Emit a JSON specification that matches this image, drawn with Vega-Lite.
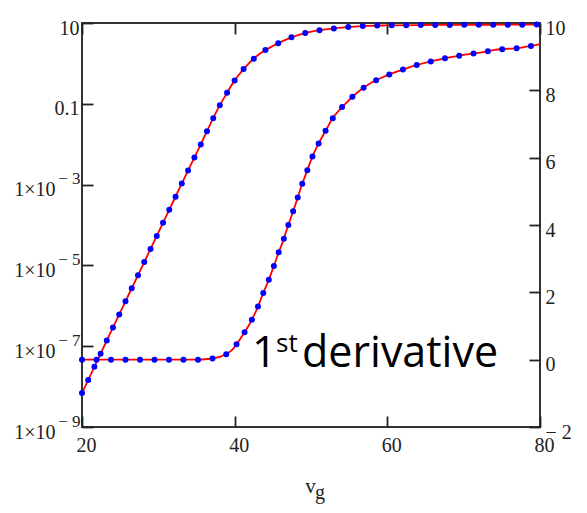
{
  "$schema": "https://vega.github.io/schema/vega-lite/v6.json",
  "width": 458,
  "height": 404,
  "autosize": {"type": "none"},
  "padding": {"left": 82, "top": 23, "right": 47, "bottom": 86},
  "background": "white",
  "config": {
    "view": {"stroke": "#333333", "strokeWidth": 2},
    "axis": {
      "labelFont": "Liberation Serif",
      "labelFontSize": 20,
      "labelColor": "#222222",
      "labelFlush": false,
      "domain": false,
      "offset": -11,
      "ticks": true,
      "tickColor": "#222222",
      "tickWidth": 1.8,
      "tickSize": 11,
      "grid": false,
      "titleFont": "Liberation Serif",
      "titleFontWeight": "normal",
      "titleColor": "#222222"
    }
  },
  "layer": [
    {
      "data": {
        "values": [
          {"vg": 20, "current": 6.918e-9},
          {"vg": 22, "current": 4.365e-8},
          {"vg": 24, "current": 2.754e-7},
          {"vg": 26, "current": 1.698e-6},
          {"vg": 28, "current": 1.047e-5},
          {"vg": 30, "current": 6.457e-5},
          {"vg": 32, "current": 3.981e-4},
          {"vg": 34, "current": 2.455e-3},
          {"vg": 35.5, "current": 9.333e-3},
          {"vg": 36.1, "current": 0.01622},
          {"vg": 37.0, "current": 0.03715},
          {"vg": 37.9, "current": 0.08128},
          {"vg": 38.9, "current": 0.1738},
          {"vg": 40.0, "current": 0.3802},
          {"vg": 41.4, "current": 0.8128},
          {"vg": 43.2, "current": 1.679},
          {"vg": 45.0, "current": 2.692},
          {"vg": 46.8, "current": 3.945},
          {"vg": 48.6, "current": 5.248},
          {"vg": 50.4, "current": 6.31},
          {"vg": 52.2, "current": 7.079},
          {"vg": 54.0, "current": 7.674},
          {"vg": 55.7, "current": 8.128},
          {"vg": 57.5, "current": 8.511},
          {"vg": 60, "current": 8.71},
          {"vg": 65, "current": 8.913},
          {"vg": 70, "current": 9.016},
          {"vg": 75, "current": 9.078},
          {"vg": 80, "current": 9.12}
        ]
      },
      "encoding": {
        "x": {
          "field": "vg",
          "type": "quantitative",
          "scale": {"domain": [20, 80], "nice": false},
          "axis": {
            "orient": "bottom",
            "values": [20, 40, 60, 80],
            "labelPadding": 8,
            "labelOffset": 4,
            "title": "v",
            "titleFontSize": 21,
            "titleBaseline": "alphabetic",
            "titleAlign": "center",
            "titleX": 228,
            "titleY": 76
          }
        }
      },
      "layer": [
        {
          "mark": {"type": "line", "color": "#ff0000", "strokeWidth": 1.8, "interpolate": "monotone"},
          "encoding": {
            "y": {
              "field": "current",
              "type": "quantitative",
              "scale": {"type": "log", "domain": [1e-9, 10], "nice": false},
              "axis": {
                "orient": "left",
                "values": [1e-9, 1e-7, 1e-5, 0.001, 0.1, 10],
                "labelExpr": "datum.value >= 1 ? '10' : datum.value >= 0.09 ? '0.1' : '1×10'",
                "labelPadding": {"condition": {"test": "datum.value >= 0.09", "value": 3}, "value": 27},
                "labelOffset": 5,
                "title": null
              }
            }
          }
        },
        {
          "mark": {"type": "line", "color": "#0000ff", "strokeWidth": 6, "strokeDash": [0, 14.5], "strokeCap": "round", "interpolate": "monotone"},
          "encoding": {
            "y": {
              "field": "current",
              "type": "quantitative",
              "scale": {"type": "log", "domain": [1e-9, 10], "nice": false},
              "axis": {
                "orient": "left",
                "values": [1e-9, 1e-7, 1e-5, 0.001],
                "labelExpr": "'− ' + (-round(log(datum.value) / LN10))",
                "labelFontSize": 17,
                "labelPadding": 2,
                "labelOffset": -6,
                "tickOpacity": 0,
                "title": null
              }
            }
          }
        }
      ],
      "resolve": {"axis": {"y": "independent"}}
    },
    {
      "encoding": {
        "x": {
          "field": "vg",
          "type": "quantitative",
          "scale": {"domain": [20, 80], "nice": false},
          "axis": {"orient": "top", "values": [20, 40, 60, 80], "labels": false, "title": null}
        },
        "y": {
          "field": "val",
          "type": "quantitative",
          "scale": {"domain": [-2, 10], "nice": false},
          "axis": {
            "orient": "right",
            "values": [-2, 0, 2, 4, 6, 8, 10],
            "labelExpr": "datum.value < 0 ? '−  2' : datum.label",
            "labelPadding": 5,
            "labelOffset": 5,
            "title": null
          }
        }
      },
      "layer": [
        {
          "data": {
            "values": [
              {"vg": 20, "val": 0.0},
              {"vg": 25, "val": 0.0},
              {"vg": 30, "val": 0.0},
              {"vg": 35, "val": 0.0},
              {"vg": 36.5, "val": 0.02},
              {"vg": 38.0, "val": 0.08},
              {"vg": 39.7, "val": 0.3},
              {"vg": 41.05, "val": 0.73},
              {"vg": 42.1, "val": 1.12},
              {"vg": 42.97, "val": 1.53},
              {"vg": 43.67, "val": 1.94},
              {"vg": 44.41, "val": 2.34},
              {"vg": 45.07, "val": 2.74},
              {"vg": 45.72, "val": 3.16},
              {"vg": 46.38, "val": 3.55},
              {"vg": 46.95, "val": 3.95},
              {"vg": 47.56, "val": 4.34},
              {"vg": 48.2, "val": 4.77},
              {"vg": 48.78, "val": 5.18},
              {"vg": 49.44, "val": 5.58},
              {"vg": 50.09, "val": 5.98},
              {"vg": 50.88, "val": 6.37},
              {"vg": 51.84, "val": 6.77},
              {"vg": 52.93, "val": 7.2},
              {"vg": 54.46, "val": 7.59},
              {"vg": 56.2, "val": 7.96},
              {"vg": 57.95, "val": 8.23},
              {"vg": 59.79, "val": 8.43},
              {"vg": 61.57, "val": 8.58},
              {"vg": 63.4, "val": 8.72},
              {"vg": 65.16, "val": 8.83},
              {"vg": 66.9, "val": 8.92},
              {"vg": 68.74, "val": 9.0},
              {"vg": 70.48, "val": 9.07},
              {"vg": 72.36, "val": 9.13},
              {"vg": 74.1, "val": 9.2},
              {"vg": 77.6, "val": 9.27},
              {"vg": 80, "val": 9.37}
            ]
          },
          "layer": [
            {"mark": {"type": "line", "color": "#ff0000", "strokeWidth": 1.8, "interpolate": "monotone"}},
            {"mark": {"type": "line", "color": "#0000ff", "strokeWidth": 6, "strokeDash": [0, 14.5], "strokeCap": "round", "interpolate": "monotone"}}
          ]
        },
        {
          "data": {
            "values": [
              {"t": "1", "vg": 42.27, "val": -0.214},
              {"t": "derivative", "vg": 48.82, "val": -0.214}
            ]
          },
          "mark": {"type": "text", "font": "Open Sans", "fontSize": 43, "align": "left", "baseline": "alphabetic", "color": "#000000"},
          "encoding": {"text": {"field": "t"}}
        },
        {
          "data": {"values": [{"t": "st", "vg": 45.42, "val": 0.232}]},
          "mark": {"type": "text", "font": "Open Sans", "fontSize": 26, "align": "left", "baseline": "alphabetic", "color": "#000000"},
          "encoding": {"text": {"field": "t"}}
        },
        {
          "data": {"values": [{"t": "g", "vg": 50.53, "val": -4.15}]},
          "mark": {"type": "text", "font": "Liberation Serif", "fontSize": 20, "align": "left", "baseline": "alphabetic", "color": "#222222"},
          "encoding": {"text": {"field": "t"}}
        }
      ]
    }
  ],
  "resolve": {
    "scale": {"y": "independent"},
    "axis": {"x": "independent", "y": "independent"}
  }
}
